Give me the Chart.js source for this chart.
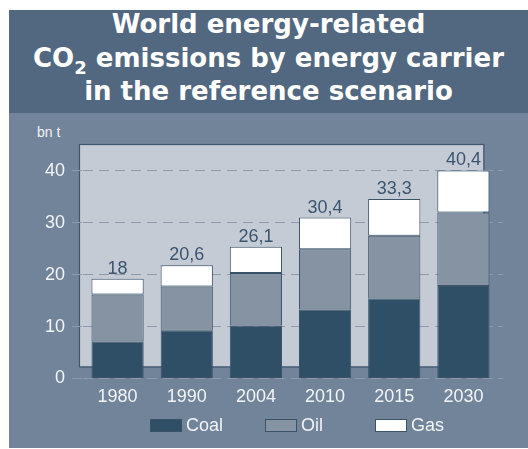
<!DOCTYPE html>
<html>
<head>
<meta charset="utf-8">
<script src="https://cdn.jsdelivr.net/npm/chart.js@4"></script>
<style>
  body { margin: 0; background: #fff; font-family: "Liberation Sans", Arial, sans-serif; }
  .frame { position: absolute; left: 9px; top: 10px; width: 519px; height: 438px; background: #72849a; }
  .title {
    height: 103px; background: #526780; color: #fff; text-align: center; overflow: hidden;
    font-family: "DejaVu Sans", sans-serif; font-weight: bold; font-size: 26px; line-height: 33.5px;
  }
  .title div { position: relative; top: -2px; }
  .title sub { font-size: 18px; line-height: 0; vertical-align: -7px; }
  .unit { position: absolute; left: 28px; top: 114px; color: #f2f4f7; font-size: 14px; }
  #wrap { position: absolute; left: 0; top: 103px; width: 519px; height: 303px; }
  .legend { position: absolute; top: 405px; left: 0; width: 519px; height: 20px; color: #f2f4f7; font-size: 18px; }
  .legend span { position: absolute; top: 0; line-height: 20px; }
  .legend i { position: absolute; top: 4px; width: 30px; height: 11px; border: 1px solid #3b5369; }
</style>
</head>
<body>
<div class="frame">
  <div class="title"><div>World energy-related<br>CO<sub>2</sub> emissions by energy carrier<br>in the reference scenario</div></div>
  <div class="unit">bn t</div>
  <div id="wrap"><canvas id="chart"></canvas></div>
  <div class="legend" id="legend"></div>
</div>
<script>
// data (bn t CO2)
const years    = ['1980', '1990', '2004', '2010', '2015', '2030'];
const coal     = [7.1, 9.2, 10.2, 13.3, 15.4, 17.8];
const oil      = [9.1, 8.5, 10.1, 11.6, 12.1, 14.2];
const gas      = [3.0, 4.1, 5.1, 6.1, 7.1, 8.1];
const totals   = ['18', '20,6', '26,1', '30,4', '33,3', '40,4'];
const yTicks   = [0, 10, 20, 30, 40];

const COL_COAL = '#2f4f66';
const COL_OIL  = '#8593a3';
const COL_GAS  = '#ffffff';
const COL_EDGE = '#3b5369';
const COL_GRID = '#8e9aaa';

// light panel behind the plot
const panelBg = {
  id: 'panelBg',
  beforeDraw(chart) {
    const { ctx, chartArea, scales } = chart;
    const x0 = chartArea.left - 4;
    const x1 = scales.x.getPixelForValue(5) + 20;
    const y0 = chartArea.top - 1;
    const y1 = scales.y.getPixelForValue(2.3);
    ctx.save();
    ctx.fillStyle = '#c5cbd5';
    ctx.fillRect(x0, y0, x1 - x0, y1 - y0);
    ctx.strokeStyle = '#3f576e';
    ctx.lineWidth = 1.2;
    ctx.strokeRect(x0 + 0.5, y0 + 0.5, x1 - x0, y1 - y0);
    ctx.restore();
  }
};

// totals above the bars
const totalLabels = {
  id: 'totalLabels',
  afterDatasetsDraw(chart) {
    const { ctx } = chart;
    const meta = chart.getDatasetMeta(2);
    ctx.save();
    ctx.fillStyle = '#3b5570';
    ctx.font = '18px "Liberation Sans", Arial, sans-serif';
    ctx.textAlign = 'center';
    ctx.textBaseline = 'alphabetic';
    meta.data.forEach((bar, i) => {
      ctx.fillText(totals[i], bar.x, bar.y - 5);
    });
    ctx.restore();
  }
};

const ds = (label, data, color) => ({
  label, data,
  backgroundColor: color,
  borderColor: COL_EDGE,
  borderWidth: 1,
  borderSkipped: false,
  categoryPercentage: 1,
  barPercentage: 0.755
});

new Chart(document.getElementById('chart'), {
  type: 'bar',
  data: {
    labels: years,
    datasets: [
      ds('Coal', coal, COL_COAL),
      ds('Oil', oil, COL_OIL),
      ds('Gas', gas, COL_GAS)
    ]
  },
  options: {
    responsive: true,
    maintainAspectRatio: false,
    animation: false,
    layout: { padding: { top: 32, right: 0, left: 0, bottom: 0 } },
    plugins: { legend: { display: false }, tooltip: { enabled: false } },
    scales: {
      x: {
        stacked: true,
        grid: { display: false, drawTicks: false },
        border: { display: false },
        ticks: { color: '#f2f4f7', font: { size: 18, family: '"Liberation Sans", Arial' }, padding: 8 }
      },
      y: {
        stacked: true,
        min: 0, max: 45,
        afterFit: s => { s.width = 74; },
        afterBuildTicks: s => { s.ticks = yTicks.map(v => ({ value: v })); },
        grid: { color: COL_GRID, tickColor: COL_GRID, tickLength: 11, tickBorderDash: [10, 6] },
        border: { display: false, dash: [10, 6] },
        ticks: { color: '#f2f4f7', font: { size: 18, family: '"Liberation Sans", Arial' }, padding: 7 }
      },
      yr: {
        position: 'right',
        min: 0, max: 45,
        afterFit: s => { s.width = 30; },
        afterBuildTicks: s => { s.ticks = yTicks.map(v => ({ value: v })); },
        grid: { drawOnChartArea: false, color: COL_GRID, tickColor: COL_GRID, tickLength: 5 },
        border: { display: false },
        ticks: { display: false }
      }
    }
  },
  plugins: [panelBg, totalLabels]
});

// legend
const legendItems = [
  { text: 'Coal', color: COL_COAL, x: 141 },
  { text: 'Oil',  color: COL_OIL,  x: 256 },
  { text: 'Gas',  color: COL_GAS,  x: 366 }
];
const legend = document.getElementById('legend');
legendItems.forEach(it => {
  legend.insertAdjacentHTML('beforeend',
    `<i style="left:${it.x}px;background:${it.color}"></i><span style="left:${it.x + 36}px">${it.text}</span>`);
});
</script>
</body>
</html>
